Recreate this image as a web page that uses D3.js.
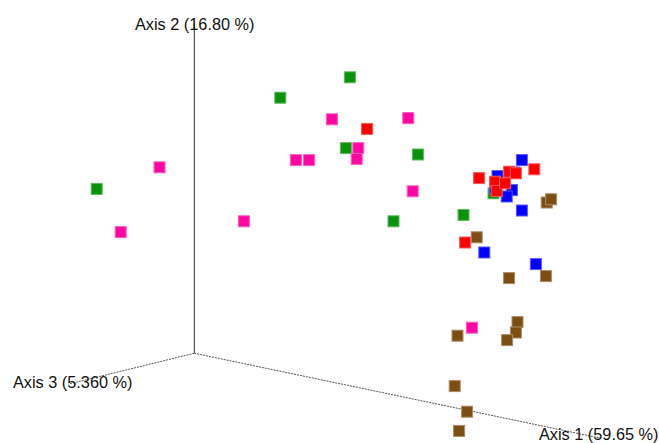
<!DOCTYPE html>
<html>
<head>
<meta charset="utf-8">
<script src="https://cdn.jsdelivr.net/npm/d3@7"></script>
<style>
html,body{margin:0;padding:0;background:#fff;}
svg{display:block;}
text{font-family:"Liberation Sans",Arial,sans-serif;}
</style>
</head>
<body>
<div id="chart"></div>
<script>
// Projected PCoA coordinates (screen-plane units of the 3D view)
const groups = ["green", "red", "blue", "pink", "brown"];
const groupColors = ["#0a930a", "#ff0000", "#0000ff", "#ff06a2", "#7c4e14"];

const greenU = [0.215, -0.244, 0.389, 0.379, 0.559, 0.498, 0.673, 0.748];
const greenV = [0.639, 0.411, 0.690, 0.513, 0.497, 0.330, 0.346, 0.400];

const redU = [0.432, 0.712, 0.850, 0.787, 0.804, 0.752, 0.756, 0.777, 0.677];
const redV = [0.561, 0.438, 0.460, 0.454, 0.450, 0.429, 0.406, 0.425, 0.277];

const blueU = [0.819, 0.758, 0.800, 0.752, 0.794, 0.781, 0.819, 0.725, 0.854];
const blueV = [0.483, 0.443, 0.452, 0.413, 0.408, 0.392, 0.357, 0.252, 0.223];

const pinkU = [-0.087, -0.184, 0.254, 0.287, 0.344, 0.124, 0.535, 0.410, 0.406, 0.546, 0.694];
const pinkV = [0.465, 0.303, 0.483, 0.483, 0.585, 0.330, 0.588, 0.513, 0.486, 0.405, 0.064];

const brownU = [0.881, 0.892, 0.706, 0.879, 0.787, 0.808, 0.804, 0.782, 0.658, 0.651, 0.682, 0.662];
const brownV = [0.377, 0.385, 0.290, 0.193, 0.188, 0.078, 0.052, 0.033, 0.044, -0.082, -0.146, -0.194];

// Axis ends in projected units (origin at 0,0)
const axisNames = ["Axis 1 (59.65 %)", "Axis 2 (16.80 %)", "Axis 3 (5.360 %)"];
const axisEndU = [1.015, 0, -0.315];
const axisEndV = [-0.212, 0.825, -0.077];

const W = 659, H = 443;
const svg = d3.select("#chart").append("svg").attr("width", W).attr("height", H);

const x = d3.scaleLinear().domain([0, 1]).range([194.3, 594.3]);
const y = d3.scaleLinear().domain([0, 1]).range([353.3, -46.7]);

// axes
const axG = svg.append("g");
axisEndU.forEach((u, i) => {
  axG.append("line")
    .attr("x1", x(0)).attr("y1", y(0))
    .attr("x2", x(u)).attr("y2", y(axisEndV[i]))
    .attr("stroke", i === 1 ? "#333" : "#555")
    .attr("stroke-width", 1)
    .attr("stroke-dasharray", i === 1 ? null : "2,1");
});

// points
const series = [
  [greenU, greenV], [blueU, blueV], [redU, redV], [pinkU, pinkV], [brownU, brownV]
];
const seriesColors = [groupColors[0], groupColors[2], groupColors[1], groupColors[3], groupColors[4]];
const S = 11;
series.forEach((s, gi) => {
  const pts = s[0].map((u, k) => ({u: u, v: s[1][k]}));
  const col = seriesColors[gi];
  svg.append("g").selectAll("rect").data(pts).join("rect")
    .attr("x", d => x(d.u) - S / 2)
    .attr("y", d => y(d.v) - S / 2)
    .attr("width", S).attr("height", S)
    .attr("fill", col)
    .attr("stroke", d3.interpolateRgb(col, "#ffffff")(0.35))
    .attr("stroke-width", 1);
});

// axis labels
svg.append("text").attr("x", 135).attr("y", 30).attr("font-size", 16.3).attr("fill", "#111").text(axisNames[1]);
svg.append("text").attr("x", 13).attr("y", 388).attr("font-size", 16.3).attr("fill", "#111").text(axisNames[2]);
svg.append("text").attr("x", 539).attr("y", 440).attr("font-size", 16.3).attr("fill", "#111").text(axisNames[0]);
</script>
</body>
</html>
